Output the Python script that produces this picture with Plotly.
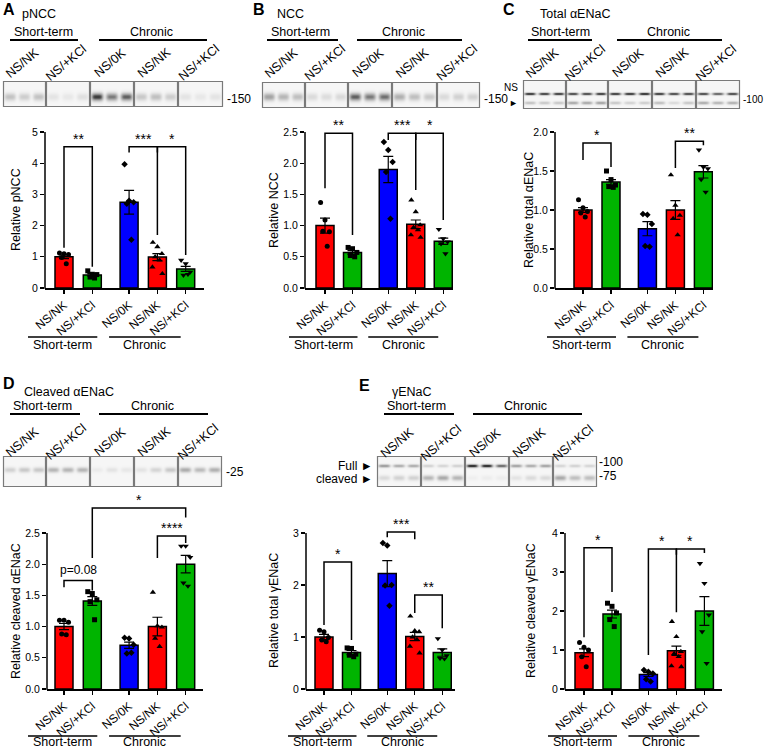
import numpy as np
import plotly.graph_objects as go

W, H = 764, 750

lane_labels = ["NS/NK", "NS/+KCl", "NS/0K", "NS/NK", "NS/+KCl"]
group_names = ["Short-term", "Chronic"]
bar_pos = [0, 1, 2.3, 3.3, 4.3]

# ---------------- data ----------------
# A pNCC
pncc_mean = [1.00, 0.42, 2.75, 0.99, 0.61]
pncc_sem = [0.06, 0.04, 0.38, 0.11, 0.08]
pncc_pts = [[1.12, 1.10, 1.07, 0.98, 0.78], [0.55, 0.44, 0.43, 0.35, 0.32],
            [3.97, 2.80, 2.75, 2.70, 1.55], [1.46, 1.32, 1.10, 1.00, 0.89, 0.67, 0.46],
            [0.89, 0.78, 0.51, 0.41, 0.44]]
pncc_sig = [(0, 1, 4.53, 1.29, 0.68, "**"), (2, 3, 4.53, 4.34, 4.34, "***"), (3, 4, 4.53, 1.70, 1.06, "*")]
pncc_blot = [0.28, 0.22, 0.28, 0.10, 0.08, 0.12, 0.85, 0.62, 0.72, 0.25, 0.30, 0.22, 0.10, 0.08, 0.10]

# B NCC
ncc_mean = [1.00, 0.57, 1.90, 1.02, 0.75]
ncc_sem = [0.12, 0.03, 0.21, 0.07, 0.05]
ncc_pts = [[1.37, 1.09, 0.90, 0.91, 0.67], [0.65, 0.63, 0.57, 0.52, 0.50],
           [2.34, 2.21, 2.02, 1.86, 1.11], [1.41, 1.22, 1.01, 0.97, 0.93, 0.85, 0.81],
           [0.94, 0.79, 0.74, 0.71, 0.55]]
ncc_sig = [(0, 1, 2.48, 1.60, 0.85, "**"), (2, 3, 2.48, 2.37, 2.37, "***"), (3, 4, 2.48, 1.57, 1.09, "*")]
ncc_blot = [0.45, 0.35, 0.30, 0.15, 0.14, 0.16, 0.72, 0.62, 0.66, 0.38, 0.30, 0.25, 0.15, 0.20, 0.20]

# C total aENaC
taenac_mean = [1.00, 1.36, 0.76, 1.00, 1.49]
taenac_sem = [0.03, 0.03, 0.09, 0.12, 0.08]
taenac_pts = [[1.13, 1.03, 0.98, 0.96, 0.91], [1.50, 1.39, 1.32, 1.30, 1.29],
              [0.95, 0.94, 0.82, 0.54, 0.53], [1.45, 1.06, 0.93, 0.89, 0.68],
              [1.77, 1.55, 1.53, 1.39, 1.23]]
taenac_sig = [(0, 1, 1.86, 1.64, 1.55, "*"), (3, 4, 1.88, 1.54, 1.83, "**")]
taenac_blot_ns = [0.92, 0.88, 0.90, 0.85, 0.85, 0.90, 0.90, 0.92, 0.95, 0.90, 0.85, 0.85, 0.85, 0.75, 0.85]
taenac_blot = [0.28, 0.25, 0.25, 0.42, 0.42, 0.45, 0.25, 0.20, 0.22, 0.30, 0.15, 0.25, 0.40, 0.35, 0.38]

# D cleaved aENaC
caenac_mean = [1.00, 1.41, 0.70, 1.00, 2.00]
caenac_sem = [0.05, 0.07, 0.05, 0.15, 0.14]
caenac_pts = [[1.10, 1.10, 1.07, 0.88, 0.87], [1.56, 1.53, 1.43, 1.40, 1.11],
              [0.82, 0.81, 0.71, 0.57, 0.58], [1.55, 1.01, 0.99, 0.81, 0.68],
              [2.29, 2.29, 2.11, 1.70, 1.65]]
caenac_sig = [(1, 4, 2.90, 2.10, 2.75, "*"), (3, 4, 2.45, 2.10, 2.34, "****"), (0, 1, 1.74, 1.63, 1.58, "p=0.08")]
caenac_blot = [0.20, 0.25, 0.25, 0.35, 0.35, 0.35, 0.06, 0.10, 0.08, 0.10, 0.18, 0.25, 0.40, 0.32, 0.38]

# E total gENaC
tgenac_mean = [1.00, 0.70, 2.22, 1.01, 0.70]
tgenac_sem = [0.05, 0.04, 0.25, 0.08, 0.07]
tgenac_pts = [[1.13, 1.10, 0.99, 0.94, 0.91], [0.79, 0.78, 0.67, 0.65, 0.62],
              [2.81, 2.76, 2.00, 1.99, 1.60], [1.40, 1.12, 1.10, 1.00, 0.95, 0.82, 0.69],
              [0.97, 0.75, 0.64, 0.59, 0.58]]
tgenac_sig = [(0, 1, 2.44, 1.23, 0.94, "*"), (2, 3, 3.02, 2.92, 2.88, "***"), (3, 4, 1.81, 1.46, 1.17, "**")]

# E cleaved gENaC
cgenac_mean = [0.93, 1.92, 0.37, 0.98, 2.00]
cgenac_sem = [0.10, 0.10, 0.05, 0.12, 0.37]
cgenac_pts = [[1.19, 1.07, 1.00, 0.83, 0.57], [2.20, 2.12, 1.95, 1.78, 1.60],
              [0.49, 0.44, 0.40, 0.25, 0.19], [1.73, 1.34, 0.96, 0.91, 0.83, 0.59, 0.57],
              [3.22, 2.71, 1.90, 1.47, 0.66]]
cgenac_sig = [(0, 1, 3.62, 1.33, 2.49, "*"), (2, 3, 3.59, 0.87, 3.44, "*"), (3, 4, 3.59, 1.97, 3.49, "*")]
genac_blot_full = [0.50, 0.40, 0.40, 0.20, 0.18, 0.20, 0.95, 0.95, 0.70, 0.45, 0.40, 0.45, 0.18, 0.20, 0.18]
genac_blot_cleaved = [0.15, 0.20, 0.20, 0.35, 0.42, 0.35, 0.04, 0.05, 0.05, 0.10, 0.15, 0.15, 0.42, 0.30, 0.30]

# ---------------- style ----------------
bar_colors = ["#FF0000", "#00B400", "#0000FF", "#FF0000", "#00B400"]
symbols = ["circle", "square", "diamond", "triangle-up", "triangle-down"]
jitter = [-0.2, 0.0, 0.2, -0.1, 0.1, -0.22, 0.22]
FONT = "Liberation Sans, Arial, DejaVu Sans, sans-serif"


def X(px):
    return px / W


def Y(py):
    return 1 - py / H


traces = []
shapes = []
annotations = []
layout = dict(width=W, height=H, margin=dict(l=0, r=0, t=0, b=0, pad=0), template="none",
              paper_bgcolor="white", plot_bgcolor="rgba(0,0,0,0)", showlegend=False,
              font=dict(family=FONT, size=12, color="black"))
count = [0]


def new_axes(xdom, ydom, xr, yr, xkw=None, ykw=None):
    count[0] += 1
    n = count[0]
    sx = "" if n == 1 else str(n)
    layout["xaxis" + sx] = dict(domain=xdom, range=xr, anchor="y" + sx, showgrid=False,
                                zeroline=False, fixedrange=True, automargin=False, **(xkw or {}))
    layout["yaxis" + sx] = dict(domain=ydom, range=yr, anchor="x" + sx, showgrid=False,
                                zeroline=False, fixedrange=True, automargin=False, **(ykw or {}))
    return "x" + sx, "y" + sx


def ann(text, x, y, size=12, xanchor="center", yanchor="middle", angle=0, bold=False):
    if bold:
        text = "<b>" + text + "</b>"
    annotations.append(dict(text=text, x=X(x), y=Y(y), xref="paper", yref="paper",
                            xanchor=xanchor, yanchor=yanchor, showarrow=False,
                            textangle=angle, font=dict(size=size, family=FONT, color="black")))


def pline(x0, y0, x1, y1, w=1.5, color="black"):
    shapes.append(dict(type="line", xref="paper", yref="paper", x0=X(x0), y0=Y(y0),
                       x1=X(x1), y1=Y(y1), line=dict(color=color, width=w)))


def chart(geo, means, sems, pts, sigs, ytitle, title_x, yticks, fmt, line_y, text_y):
    left, p0, unit, right, y0, ytick_px, ytop_px = geo
    xr = [(left - p0) / unit, (right - p0) / unit]
    ymax = yticks[-1]
    yr = [0, ymax * (y0 - ytop_px) / (y0 - ytick_px)]
    xref, yref = new_axes(
        [X(left), X(right)], [Y(y0), Y(ytop_px)], xr, yr,
        xkw=dict(showline=True, linecolor="black", linewidth=1.5, ticks="outside", ticklen=4,
                 tickwidth=1.2, tickcolor="black", tickvals=bar_pos, ticktext=lane_labels,
                 tickangle=-40, tickfont=dict(size=12, family=FONT)),
        ykw=dict(showline=False, ticks="outside", ticklen=4, tickwidth=1.2, tickcolor="black",
                 tickvals=yticks, ticktext=[fmt.format(v) for v in yticks],
                 tickfont=dict(size=10.5, family=FONT)))
    # y axis title and line
    ann(ytitle, title_x, (y0 + ytick_px) / 2, size=12.5, angle=-90)
    pline(left, y0 + 0.75, left, ytick_px)
    traces.append(go.Bar(x=bar_pos, y=means, width=18 / unit, xaxis=xref, yaxis=yref,
                         marker=dict(color=bar_colors, line=dict(color="black", width=1.5)),
                         error_y=dict(type="data", array=sems, color="black", thickness=1.2, width=5),
                         hoverinfo="skip"))
    for g in range(5):
        vals = pts[g]
        xs = [bar_pos[g] + jitter[k] * 0.8 for k in range(len(vals))]
        traces.append(go.Scatter(x=xs, y=vals, mode="markers", xaxis=xref, yaxis=yref,
                                 marker=dict(symbol=symbols[g], size=5 if g < 3 else 5.5, color="black"),
                                 hoverinfo="skip", cliponaxis=False))
    for (i, j, top, yl, yrr, lab) in sigs:
        xi, xj = bar_pos[i], bar_pos[j]
        traces.append(go.Scatter(x=[xi, xi, xj, xj], y=[yl, top, top, yrr], mode="lines",
                                 xaxis=xref, yaxis=yref, line=dict(color="black", width=1.5),
                                 hoverinfo="skip"))
        star = lab.startswith("*")
        annotations.append(dict(text=lab, x=(xi + xj) / 2, y=top, xref=xref, yref=yref,
                                xanchor="center", yanchor="bottom", showarrow=False,
                                yshift=-2 if star else 1,
                                font=dict(size=14 if star else 12, family=FONT, color="black")))
    # group labels below
    s0, s1 = p0 - 36, p0 + unit + 5
    c0, c1 = p0 + 2.3 * unit - 20, p0 + 4.3 * unit - 5
    pline(s0, line_y, s1, line_y)
    pline(c0, line_y, c1, line_y)
    ann(group_names[0], (s0 + s1) / 2, text_y, size=12.5)
    ann(group_names[1], (c0 + c1) / 2, text_y, size=12.5)


def blot(bounds, ytop, ybot, bands):
    left, right = bounds[0], bounds[-1]
    xs = np.arange(left, right) + 0.5
    ys = np.arange(ytop, ybot) + 0.5
    z = np.zeros((len(ys), len(xs)))
    for g in range(5):
        a, b = bounds[g], bounds[g + 1]
        lw = (b - a) / 3
        for k in range(3):
            xc = a + (k + 0.5) * lw
            hp = np.exp(-(((xs - xc) / (0.40 * lw)) ** 4))
            hp[(xs < a + 1) | (xs > b - 1)] = 0
            for (yc, sig, inten) in bands:
                vp = np.exp(-((((ys - ytop) - yc) / sig) ** 2))
                z += inten[g * 3 + k] * np.outer(vp, hp)
    z = np.clip(z, 0, 1)
    xref, yref = new_axes([X(left), X(right)], [Y(ybot), Y(ytop)], [left, right], [ybot, ytop],
                          xkw=dict(visible=False), ykw=dict(visible=False))
    traces.append(go.Heatmap(x=xs, y=ys, z=z, xaxis=xref, yaxis=yref, zmin=0, zmax=1,
                             colorscale=[[0, "#f6f6f6"], [0.5, "#9a9a9a"], [1, "#111111"]],
                             showscale=False, hoverinfo="skip"))
    for g in range(5):
        a, b = bounds[g], bounds[g + 1]
        shapes.append(dict(type="rect", xref="paper", yref="paper", x0=X(a + 0.5), x1=X(b - 0.5),
                           y0=Y(ytop + 0.5), y1=Y(ybot - 0.5), line=dict(color="#7a7a7a", width=1.2)))


def header(letter, lx, ly, title, tx, ty, short_line, short_cx, chr_line, chr_cx, gy, lane_y, bounds):
    ann(letter, lx, ly, size=16, xanchor="left", bold=True)
    ann(title, tx, ty, size=12.5, xanchor="left")
    ann(group_names[0], short_cx, gy, size=12.5)
    ann(group_names[1], chr_cx, gy, size=12.5)
    pline(short_line[0], gy + 8, short_line[1], gy + 8, w=2)
    pline(chr_line[0], gy + 8, chr_line[1], gy + 8, w=2)
    for g in range(5):
        cx = (bounds[g] + bounds[g + 1]) / 2 - 2
        ann(lane_labels[g], cx, lane_y, size=12.5, angle=-40)


# ---------------- panel A ----------------
bA = [3, 46, 90, 134, 178, 223]
header("A", 1, 10, "pNCC", 20, 14, (10, 78), 43, (99, 207), 151, 32, 63, bA)
blot(bA, 81, 107, [(16, 3.8, pncc_blot)])
ann("-150", 225, 99, size=12, xanchor="left")
chart((45, 64, 28.3, 204, 288, 132, 120), pncc_mean, pncc_sem, pncc_pts, pncc_sig,
      "Relative pNCC", 16, [0, 1, 2, 3, 4, 5], "{:.0f}", 337, 345)

# ---------------- panel B ----------------
bB = [262, 305, 348, 392, 437, 480]
header("B", 251, 10, "NCC", 275, 14, (267, 338), 300, (357, 462), 404, 32, 63, bB)
blot(bB, 82, 108, [(15, 3.8, ncc_blot)])
ann("-150", 482, 99, size=12, xanchor="left")
chart((305, 325, 27.5, 453, 288, 132, 120), ncc_mean, ncc_sem, ncc_pts, ncc_sig,
      "Relative NCC", 274, [0, 0.5, 1.0, 1.5, 2.0, 2.5], "{:.1f}", 337, 345)

# ---------------- panel C ----------------
bC = [523, 566, 608, 652, 696, 740]
header("C", 501, 10, "Total αENaC", 538, 14, (528, 592), 560, (617, 722), 668, 32, 63, bC)
blot(bC, 80, 109, [(14, 1.3, taenac_blot_ns), (23, 1.6, taenac_blot)])
ann("-100", 741, 100, size=10, xanchor="left")
ann("NS", 520, 88, size=10, xanchor="right")
ann("\u25BA", 520, 103, size=9, xanchor="right")
chart((555, 583, 28, 713, 288, 132, 120), taenac_mean, taenac_sem, taenac_pts, taenac_sig,
      "Relative total αENaC", 529, [0, 0.5, 1.0, 1.5, 2.0], "{:.1f}", 337, 345)

# ---------------- panel D ----------------
bD = [3, 46, 90, 134, 178, 222]
header("D", 1, 383, "Cleaved αENaC", 22, 392, (10, 80), 42, (99, 208), 152, 406, 442, bD)
blot(bD, 456, 487, [(14, 2.6, caenac_blot)])
ann("-25", 224, 472, size=12, xanchor="left")
chart((47, 64, 28.3, 203, 689, 533, 495), caenac_mean, caenac_sem, caenac_pts, caenac_sig,
      "Relative cleaved αENaC", 16, [0, 0.5, 1.0, 1.5, 2.0, 2.5], "{:.1f}", 736, 742)

# ---------------- panel E ----------------
bE = [377, 421, 465, 509, 553, 597]
header("E", 357, 385, "γENaC", 390, 392, (384, 454), 417, (473, 582), 525, 406, 443, bE)
blot(bE, 456, 487, [(10, 1.6, genac_blot_full), (22, 2.6, genac_blot_cleaved)])
ann("-100", 597, 462, size=12, xanchor="left")
ann("-75", 597, 476, size=12, xanchor="left")
ann("Full \u25BA", 375, 466, size=12, xanchor="right")
ann("cleaved \u25BA", 375, 479, size=12, xanchor="right")
chart((306, 324, 27.5, 455, 689, 533, 520), tgenac_mean, tgenac_sem, tgenac_pts, tgenac_sig,
      "Relative total γENaC", 274, [0, 1, 2, 3], "{:.0f}", 736, 742)
chart((565, 584, 28, 722, 689, 533, 530), cgenac_mean, cgenac_sem, cgenac_pts, cgenac_sig,
      "Relative cleaved γENaC", 531, [0, 1, 2, 3, 4], "{:.0f}", 736, 742)

layout["shapes"] = shapes
layout["annotations"] = annotations
fig = go.Figure(data=traces, layout=layout)
fig.write_html("out.html", config={"displayModeBar": False, "staticPlot": True},
               post_script="document.body.style.margin='0px';document.body.style.overflow='hidden';")
